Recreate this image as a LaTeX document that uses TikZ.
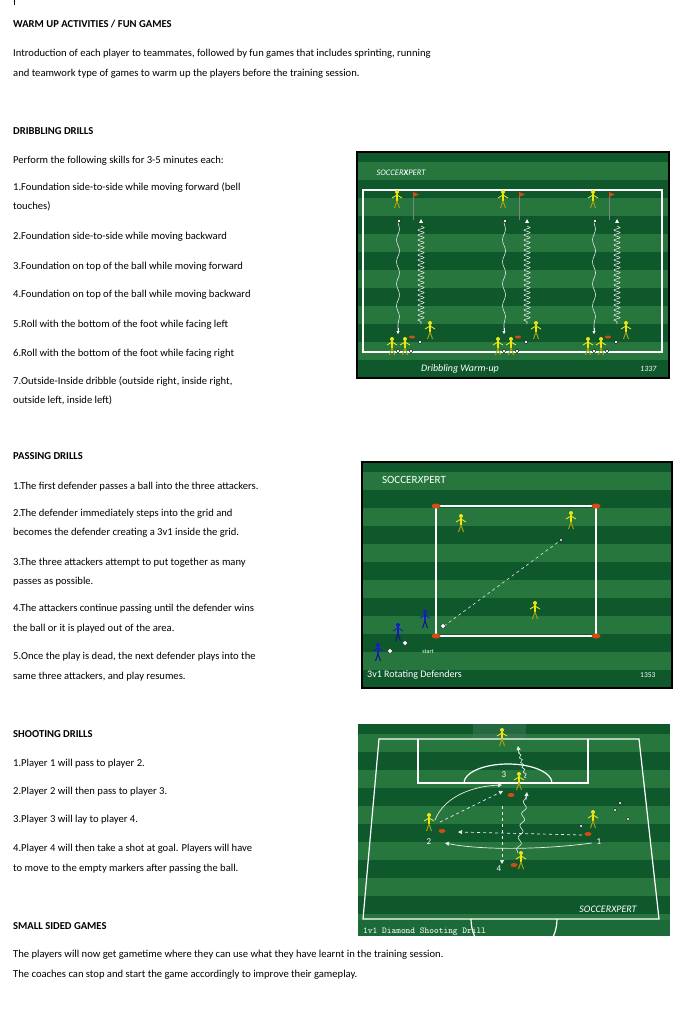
\documentclass[tikz,border=0pt]{standalone}
\usepackage{fontspec}
\setmainfont{Carlito}
\usetikzlibrary{decorations.pathmorphing,arrows.meta}

\definecolor{fieldDark}{RGB}{14,88,44}
\definecolor{fieldLight}{RGB}{38,118,62}
\definecolor{coneOrange}{RGB}{214,74,20}
\definecolor{kitYellow}{RGB}{236,230,20}
\definecolor{kitBlue}{RGB}{20,30,200}

\tikzset{
  txt/.style={anchor=base west, inner sep=0pt, font=\fontsize{10.6}{12}\selectfont},
  hdr/.style={txt, font=\fontsize{10.6}{12}\selectfont\bfseries},
  line/.style={white, line width=1.4pt},
  cone/.style={fill=coneOrange, draw=none},
  ball/.style={circle, fill=white, draw=black, line width=0.3pt, inner sep=1.6pt},
  caption/.style={white, anchor=base west, inner sep=0pt},
  logo/.style={white, inner sep=0pt, font=\fontsize{9}{10}\selectfont},
  pics/player/.style={code={
    \fill[#1] (0,-8) circle (2);
    \draw[#1, line width=1.6pt] (0,-6) -- (0,1);
    \draw[#1!70!black, line width=1pt] (0,1) -- (-2.5,8) (0,1) -- (2.5,8);
    \draw[#1, line width=0.9pt] (-5,-2) -- (0,-5) -- (5,-2);
  }},
  pics/player/.default=kitYellow
}

\newcommand{\stripes}[4]{% x1,y1,x2,y2
  \fill[fieldDark] (#1,#2) rectangle (#3,#4);
  \begin{scope}
    \clip (#1,#2) rectangle (#3,#4);
    \foreach \k in {0,2,...,12} {
      \fill[fieldLight] (#1,#2+\k*18+10) rectangle (#3,#2+\k*18+28);
    }
  \end{scope}
}

\begin{document}
\begin{tikzpicture}[x=1pt, y=-1pt]
  \useasboundingbox (0,0) rectangle (680,1024);
  \fill[white] (0,0) rectangle (680,1024);
  \draw[black, line width=0.8pt] (14,0) -- (14,5);

  % left column texts
  \node[hdr] (warmHead) at (13,28) {WARM UP ACTIVITIES / FUN GAMES};
  \node[txt] (warm1) at (13,57) {Introduction of each player to teammates, followed by fun games that includes sprinting, running};
  \node[txt] (warm2) at (13,77) {and teamwork type of games to warm up the players before the training session.};

  \node[hdr] (dribHead) at (13,135) {DRIBBLING DRILLS};
  \node[txt] (drib0) at (13,164) {Perform the following skills for 3-5 minutes each:};
  \node[txt] (drib1) at (13,191) {1.Foundation side-to-side while moving forward (bell};
  \node[txt] (drib1b) at (13,210) {touches)};
  \node[txt] (drib2) at (13,240) {2.Foundation side-to-side while moving backward};
  \node[txt] (drib3) at (13,269) {3.Foundation on top of the ball while moving forward};
  \node[txt] (drib4) at (13,297) {4.Foundation on top of the ball while moving backward};
  \node[txt] (drib5) at (13,327) {5.Roll with the bottom of the foot while facing left};
  \node[txt] (drib6) at (13,356) {6.Roll with the bottom of the foot while facing right};
  \node[txt] (drib7) at (13,384) {7.Outside-Inside dribble (outside right, inside right,};
  \node[txt] (drib7b) at (13,403) {outside left, inside left)};

  \node[hdr] (passHead) at (13,459) {PASSING DRILLS};
  \node[txt] (pass1) at (13,489) {1.The first defender passes a ball into the three attackers.};
  \node[txt] (pass2) at (13,516) {2.The defender immediately steps into the grid and};
  \node[txt] (pass2b) at (13,535) {becomes the defender creating a 3v1 inside the grid.};
  \node[txt] (pass3) at (13,565) {3.The three attackers attempt to put together as many};
  \node[txt] (pass3b) at (13,584) {passes as possible.};
  \node[txt] (pass4) at (13,611) {4.The attackers continue passing until the defender wins};
  \node[txt] (pass4b) at (13,631) {the ball or it is played out of the area.};
  \node[txt] (pass5) at (13,659) {5.Once the play is dead, the next defender plays into the};
  \node[txt] (pass5b) at (13,679) {same three attackers, and play resumes.};

  \node[hdr] (shotHead) at (13,737) {SHOOTING DRILLS};
  \node[txt] (shot1) at (13,766) {1.Player 1 will pass to player 2.};
  \node[txt] (shot2) at (13,794) {2.Player 2 will then pass to player 3.};
  \node[txt] (shot3) at (13,822) {3.Player 3 will lay to player 4.};
  \node[txt] (shot4) at (13,851) {4.Player 4 will then take a shot at goal. Players will have};
  \node[txt] (shot4b) at (13,871) {to move to the empty markers after passing the ball.};

  \node[hdr] (gameHead) at (13,929) {SMALL SIDED GAMES};
  \node[txt] (game1) at (13,957) {The players will now get gametime where they can use what they have learnt in the training session.};
  \node[txt] (game2) at (13,977) {The coaches can stop and start the game accordingly to improve their gameplay.};

  % dribbling picture
  \stripes{357}{152}{669}{378}
  \draw[black, line width=1.5pt] (357,152) rectangle (669,378);
  \draw[line] (363,190) rectangle (662,352);
  \node[logo, font=\fontsize{8.5}{9}\selectfont\itshape] (dribLogo) at (401,173) {SOCCER\textbf{X}PERT};
  \node[caption, font=\fontsize{10}{11}\selectfont\itshape] (dribCap) at (421,371) {Dribbling Warm-up};
  \node[caption, font=\fontsize{8}{9}\selectfont\itshape] (dribNum) at (640,371) {1337};
  \foreach \c in {398,504,594} {
    \draw[white!80!gray, line width=0.6pt, decorate,
      decoration={snake, amplitude=1.5pt, segment length=22pt}] (\c,222) -- (\c,330);
    \draw[-{Triangle[length=3pt,width=3pt]}, white] (\c,328) -- (\c,334);
    \draw[white!80!gray, line width=0.6pt, decorate,
      decoration={snake, amplitude=3pt, segment length=5pt}] (\c+23,226) -- (\c+23,324);
    \fill[white] (\c+21,223) -- (\c+25,223) -- (\c+23,219) -- cycle;
    \draw[gray, line width=0.8pt] (\c+15,192) -- (\c+15,220);
    \fill[coneOrange] (\c+15,192) -- (\c+21,194.5) -- (\c+15,197) -- cycle;
    \pic at (\c-1,200) {player};
    \node[ball, inner sep=1.3pt] at (\c+1,221) {};
    \fill[cone] (\c+14,337) ellipse (3 and 1.5);
    \pic at (\c+32,331) {player};
    \node[ball, inner sep=1.3pt] at (\c+22,342) {};
    \pic at (\c-6,347) {player};
    \pic at (\c+7,347) {player};
    \node[ball, inner sep=1.3pt] at (\c,351) {};
    \node[ball, inner sep=1.3pt] at (\c+13,351) {};
  }

  % passing picture
  \stripes{362}{462}{672}{688}
  \draw[black, line width=1.5pt] (362,462) rectangle (672,688);
  \draw[line] (436,506) rectangle (596,636);
  \foreach \cx/\cy in {436/506,596/506,436/636,596/636} {
    \fill[cone] (\cx,\cy) ellipse (4.5 and 2.5);
  }
  \node[logo, font=\fontsize{11}{12}\selectfont] (passLogo) at (414,480) {SOCCER\textit{X}PERT};
  \draw[white!80!gray, dashed, line width=0.6pt] (444,626) -- (561,540);
  \node[ball, inner sep=1.2pt] at (561,540) {};
  \node[ball] at (443,626) {};
  \pic at (461,524) {player};
  \pic at (571,521) {player};
  \pic at (535,611) {player};
  \pic at (378,653) {player=kitBlue};
  \pic at (398,633) {player=kitBlue};
  \pic at (425,620) {player=kitBlue};
  \node[ball] at (390,651) {};
  \node[ball] at (405,643) {};
  \node[white, inner sep=0pt, font=\fontsize{6}{7}\selectfont] (passStart) at (428,652) {start};
  \node[caption, font=\fontsize{10}{11}\selectfont] (passCap) at (367,677) {3v1 Rotating Defenders};
  \node[caption, font=\fontsize{7.5}{8}\selectfont] (passNum) at (640,677) {1353};

  % shooting picture
  \stripes{358}{724}{670}{936}
  \fill[fieldLight!60!fieldDark] (358,920) rectangle (670,936);
  \fill[fieldDark!80!white, opacity=0.5] (473,724) rectangle (526,739);
  \draw[line, line width=1.2pt] (363,919) -- (379,739) -- (639,739) -- (659,919) -- cycle;
  \draw[line, line width=1.2pt] (418,739) -- (418,783) -- (588,783) -- (588,739);
  \draw[line, line width=1.2pt] (464,783) arc[start angle=180, end angle=360, x radius=44, y radius=19];
  \draw[line, line width=1.2pt] (471,919) arc[start angle=180, end angle=0, radius=43];
  \node[logo, font=\fontsize{10}{11}\selectfont\itshape] (shotLogo) at (608,909) {SOCCER\textit{X}PERT};
  \node[caption, font=\ttfamily\fontsize{9}{10}\selectfont] (shotCap) at (363,933) {1v1 Diamond Shooting Drill};
  \pic at (502,738) {player};
  \pic at (519,782) {player};
  \pic at (429,823) {player};
  \pic at (593,820) {player};
  \pic at (521,861) {player};
  \fill[cone] (511,795) ellipse (3.5 and 2);
  \fill[cone] (442,831) ellipse (3.5 and 2);
  \fill[cone] (588,834) ellipse (3.5 and 2);
  \fill[cone] (514,865) ellipse (3.5 and 2);
  \foreach \bx/\by in {620/803,615/810,628/819,581/826} {
    \node[ball, inner sep=1.2pt] at (\bx,\by) {};
  }
  \foreach \lab/\lx/\ly in {3/504/775,2/429/842,1/599/842,4/499/869} {
    \node[white, inner sep=0pt, font=\fontsize{9}{10}\selectfont] at (\lx,\ly) {\lab};
  }
  \tikzset{pass/.style={white!85!gray, line width=0.7pt, -{Triangle[length=4pt,width=4pt]}}}
  \draw[pass, dashed] (582,835) -- (458,832);
  \draw[pass, dashed] (440,822) -- (503,791);
  \draw[pass, dashed] (502,806) -- (502,864);
  \draw[pass] (592,843) .. controls (540,850) and (480,850) .. (445,843);
  \draw[pass] (435,820) .. controls (445,795) and (475,786) .. (502,785);
  \draw[white!85!gray, line width=0.6pt, decorate,
    decoration={snake, amplitude=2pt, segment length=12pt}] (518,853) -- (526,796);
  \draw[pass] (526,800) -- (527,792);
  \draw[white!85!gray, line width=0.6pt, decorate,
    decoration={zigzag, amplitude=1.2pt, segment length=5pt}] (526,778) -- (519,752);
  \draw[pass] (519,754) -- (518,746);
\end{tikzpicture}
\end{document}
